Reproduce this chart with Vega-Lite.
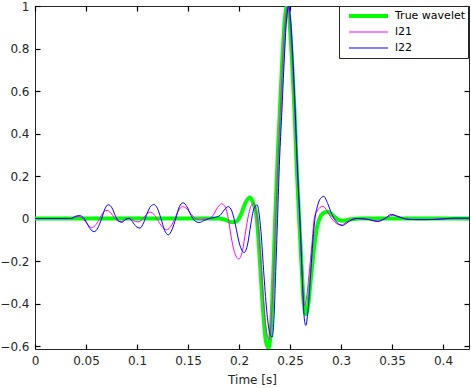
{
  "$schema": "https://vega.github.io/schema/vega-lite/v6.json",
  "width": 434,
  "height": 343,
  "autosize": {"type": "none"},
  "padding": {"left": 35, "top": 6, "right": 2, "bottom": 39},
  "config": {
    "view": {"stroke": "#262626", "strokeWidth": 1},
    "font": "DejaVu Sans",
    "axis": {"grid": false, "domain": false, "offset": -5, "tickSize": 5, "ticks": true, "zindex": 1, "tickWidth": 1.2, "labelFlush": false, "labelOverlap": false, "tickColor": "#000000", "labelColor": "#262626", "titleColor": "#262626", "labelFont": "DejaVu Sans", "titleFont": "DejaVu Sans", "labelFontSize": 12, "titleFontSize": 12, "titleFontWeight": "normal"}
  },
  "datasets": {
    "w": [
      {"s":"True wavelet","t":0,"a":0},{"s":"True wavelet","t":0.18,"a":0},{"s":"True wavelet","t":0.186,"a":-0.005},{"s":"True wavelet","t":0.193,"a":-0.017},{"s":"True wavelet","t":0.198,"a":-0.012},{"s":"True wavelet","t":0.202,"a":0.02},{"s":"True wavelet","t":0.206,"a":0.07},{"s":"True wavelet","t":0.2105,"a":0.099},{"s":"True wavelet","t":0.2145,"a":0.065},{"s":"True wavelet","t":0.2175,"a":0},{"s":"True wavelet","t":0.2205,"a":-0.2},{"s":"True wavelet","t":0.2235,"a":-0.43},{"s":"True wavelet","t":0.2265,"a":-0.58},{"s":"True wavelet","t":0.2292,"a":-0.61},{"s":"True wavelet","t":0.2315,"a":-0.5},{"s":"True wavelet","t":0.2335,"a":-0.28},{"s":"True wavelet","t":0.2355,"a":0},{"s":"True wavelet","t":0.238,"a":0.3},{"s":"True wavelet","t":0.24,"a":0.5},{"s":"True wavelet","t":0.2425,"a":0.75},{"s":"True wavelet","t":0.245,"a":0.94},{"s":"True wavelet","t":0.2472,"a":1.0},{"s":"True wavelet","t":0.2495,"a":0.93},{"s":"True wavelet","t":0.252,"a":0.74},{"s":"True wavelet","t":0.2545,"a":0.5},{"s":"True wavelet","t":0.2565,"a":0.25},{"s":"True wavelet","t":0.259,"a":0},{"s":"True wavelet","t":0.2615,"a":-0.24},{"s":"True wavelet","t":0.2635,"a":-0.4},{"s":"True wavelet","t":0.2655,"a":-0.45},{"s":"True wavelet","t":0.268,"a":-0.4},{"s":"True wavelet","t":0.2705,"a":-0.28},{"s":"True wavelet","t":0.2735,"a":-0.14},{"s":"True wavelet","t":0.2765,"a":-0.04},{"s":"True wavelet","t":0.279,"a":0},{"s":"True wavelet","t":0.2825,"a":0.025},{"s":"True wavelet","t":0.287,"a":0.032},{"s":"True wavelet","t":0.292,"a":0.015},{"s":"True wavelet","t":0.297,"a":-0.005},{"s":"True wavelet","t":0.302,"a":-0.01},{"s":"True wavelet","t":0.31,"a":-0.003},{"s":"True wavelet","t":0.32,"a":0},{"s":"True wavelet","t":0.4255,"a":0},

      {"s":"l21","t":0,"a":0},{"s":"l21","t":0.035,"a":0},{"s":"l21","t":0.039,"a":0.006},{"s":"l21","t":0.0425,"a":0.01},{"s":"l21","t":0.046,"a":0.003},{"s":"l21","t":0.049,"a":-0.012},{"s":"l21","t":0.0525,"a":-0.033},{"s":"l21","t":0.0555,"a":-0.043},{"s":"l21","t":0.059,"a":-0.033},{"s":"l21","t":0.0625,"a":-0.008},{"s":"l21","t":0.066,"a":0.022},{"s":"l21","t":0.0705,"a":0.038},{"s":"l21","t":0.0745,"a":0.025},{"s":"l21","t":0.078,"a":0.002},{"s":"l21","t":0.0815,"a":-0.012},{"s":"l21","t":0.085,"a":-0.014},{"s":"l21","t":0.0885,"a":-0.004},{"s":"l21","t":0.0924,"a":0},{"s":"l21","t":0.0965,"a":-0.01},{"s":"l21","t":0.101,"a":-0.016},{"s":"l21","t":0.105,"a":-0.005},{"s":"l21","t":0.109,"a":0.018},{"s":"l21","t":0.1127,"a":0.03},{"s":"l21","t":0.1165,"a":0.02},{"s":"l21","t":0.12,"a":-0.005},{"s":"l21","t":0.1245,"a":-0.038},{"s":"l21","t":0.129,"a":-0.053},{"s":"l21","t":0.1335,"a":-0.035},{"s":"l21","t":0.137,"a":0},{"s":"l21","t":0.141,"a":0.04},{"s":"l21","t":0.1447,"a":0.056},{"s":"l21","t":0.149,"a":0.045},{"s":"l21","t":0.1535,"a":0.018},{"s":"l21","t":0.1575,"a":0},{"s":"l21","t":0.1616,"a":-0.006},{"s":"l21","t":0.166,"a":-0.003},{"s":"l21","t":0.171,"a":0},{"s":"l21","t":0.175,"a":0.018},{"s":"l21","t":0.179,"a":0.052},{"s":"l21","t":0.183,"a":0.069},{"s":"l21","t":0.1865,"a":0.055},{"s":"l21","t":0.1895,"a":0},{"s":"l21","t":0.1925,"a":-0.09},{"s":"l21","t":0.196,"a":-0.165},{"s":"l21","t":0.1998,"a":-0.19},{"s":"l21","t":0.2035,"a":-0.15},{"s":"l21","t":0.2065,"a":-0.06},{"s":"l21","t":0.2095,"a":0.02},{"s":"l21","t":0.212,"a":0.062},{"s":"l21","t":0.2145,"a":0.072},{"s":"l21","t":0.2165,"a":0.04},{"s":"l21","t":0.218,"a":0},{"s":"l21","t":0.221,"a":-0.17},{"s":"l21","t":0.224,"a":-0.38},{"s":"l21","t":0.227,"a":-0.53},{"s":"l21","t":0.2295,"a":-0.57},{"s":"l21","t":0.232,"a":-0.45},{"s":"l21","t":0.234,"a":-0.25},{"s":"l21","t":0.236,"a":0},{"s":"l21","t":0.2385,"a":0.3},{"s":"l21","t":0.2405,"a":0.5},{"s":"l21","t":0.243,"a":0.76},{"s":"l21","t":0.2455,"a":0.94},{"s":"l21","t":0.2477,"a":1.0},{"s":"l21","t":0.25,"a":0.92},{"s":"l21","t":0.2525,"a":0.72},{"s":"l21","t":0.255,"a":0.47},{"s":"l21","t":0.257,"a":0.24},{"s":"l21","t":0.2595,"a":0},{"s":"l21","t":0.2615,"a":-0.22},{"s":"l21","t":0.2638,"a":-0.41},{"s":"l21","t":0.266,"a":-0.38},{"s":"l21","t":0.2685,"a":-0.27},{"s":"l21","t":0.2715,"a":-0.12},{"s":"l21","t":0.2738,"a":0},{"s":"l21","t":0.2765,"a":0.035},{"s":"l21","t":0.2795,"a":0.052},{"s":"l21","t":0.2824,"a":0.058},{"s":"l21","t":0.2865,"a":0.035},{"s":"l21","t":0.29,"a":0.005},{"s":"l21","t":0.294,"a":-0.017},{"s":"l21","t":0.2975,"a":-0.028},{"s":"l21","t":0.3005,"a":-0.03},{"s":"l21","t":0.305,"a":-0.018},{"s":"l21","t":0.31,"a":-0.005},{"s":"l21","t":0.315,"a":0},{"s":"l21","t":0.325,"a":-0.003},{"s":"l21","t":0.336,"a":-0.011},{"s":"l21","t":0.343,"a":0},{"s":"l21","t":0.3505,"a":0.015},{"s":"l21","t":0.357,"a":0.006},{"s":"l21","t":0.365,"a":-0.003},{"s":"l21","t":0.378,"a":-0.006},{"s":"l21","t":0.395,"a":-0.003},{"s":"l21","t":0.41,"a":0},{"s":"l21","t":0.4255,"a":0},

      {"s":"l22","t":0,"a":0},{"s":"l22","t":0.035,"a":0},{"s":"l22","t":0.0395,"a":0.01},{"s":"l22","t":0.0434,"a":0.014},{"s":"l22","t":0.0475,"a":0.004},{"s":"l22","t":0.0505,"a":-0.018},{"s":"l22","t":0.054,"a":-0.048},{"s":"l22","t":0.058,"a":-0.062},{"s":"l22","t":0.0615,"a":-0.045},{"s":"l22","t":0.065,"a":-0.005},{"s":"l22","t":0.0685,"a":0.045},{"s":"l22","t":0.0718,"a":0.065},{"s":"l22","t":0.0755,"a":0.05},{"s":"l22","t":0.079,"a":0.01},{"s":"l22","t":0.082,"a":-0.012},{"s":"l22","t":0.085,"a":-0.018},{"s":"l22","t":0.0885,"a":-0.006},{"s":"l22","t":0.092,"a":0.001},{"s":"l22","t":0.0955,"a":-0.015},{"s":"l22","t":0.0992,"a":-0.038},{"s":"l22","t":0.1029,"a":-0.045},{"s":"l22","t":0.1065,"a":-0.02},{"s":"l22","t":0.11,"a":0.025},{"s":"l22","t":0.1135,"a":0.058},{"s":"l22","t":0.1166,"a":0.066},{"s":"l22","t":0.12,"a":0.048},{"s":"l22","t":0.1235,"a":0},{"s":"l22","t":0.127,"a":-0.055},{"s":"l22","t":0.1306,"a":-0.077},{"s":"l22","t":0.1345,"a":-0.05},{"s":"l22","t":0.138,"a":0},{"s":"l22","t":0.1415,"a":0.055},{"s":"l22","t":0.1453,"a":0.074},{"s":"l22","t":0.149,"a":0.055},{"s":"l22","t":0.153,"a":0.015},{"s":"l22","t":0.157,"a":-0.012},{"s":"l22","t":0.161,"a":-0.019},{"s":"l22","t":0.1655,"a":-0.01},{"s":"l22","t":0.171,"a":0},{"s":"l22","t":0.177,"a":0.006},{"s":"l22","t":0.1815,"a":0.015},{"s":"l22","t":0.1855,"a":0.04},{"s":"l22","t":0.1894,"a":0.056},{"s":"l22","t":0.193,"a":0.035},{"s":"l22","t":0.1965,"a":-0.03},{"s":"l22","t":0.2005,"a":-0.12},{"s":"l22","t":0.205,"a":-0.16},{"s":"l22","t":0.2085,"a":-0.12},{"s":"l22","t":0.2115,"a":-0.03},{"s":"l22","t":0.2145,"a":0.045},{"s":"l22","t":0.2178,"a":0.064},{"s":"l22","t":0.2195,"a":0.03},{"s":"l22","t":0.2215,"a":-0.06},{"s":"l22","t":0.2245,"a":-0.27},{"s":"l22","t":0.2275,"a":-0.45},{"s":"l22","t":0.2305,"a":-0.545},{"s":"l22","t":0.2325,"a":-0.558},{"s":"l22","t":0.2345,"a":-0.45},{"s":"l22","t":0.236,"a":-0.25},{"s":"l22","t":0.2378,"a":0},{"s":"l22","t":0.2398,"a":0.28},{"s":"l22","t":0.2418,"a":0.48},{"s":"l22","t":0.2445,"a":0.76},{"s":"l22","t":0.2465,"a":0.93},{"s":"l22","t":0.2487,"a":1.0},{"s":"l22","t":0.251,"a":0.91},{"s":"l22","t":0.2532,"a":0.72},{"s":"l22","t":0.2555,"a":0.46},{"s":"l22","t":0.2575,"a":0.22},{"s":"l22","t":0.26,"a":-0.03},{"s":"l22","t":0.262,"a":-0.27},{"s":"l22","t":0.264,"a":-0.47},{"s":"l22","t":0.2655,"a":-0.503},{"s":"l22","t":0.2675,"a":-0.44},{"s":"l22","t":0.27,"a":-0.28},{"s":"l22","t":0.2725,"a":-0.1},{"s":"l22","t":0.2745,"a":0},{"s":"l22","t":0.277,"a":0.06},{"s":"l22","t":0.28,"a":0.095},{"s":"l22","t":0.2831,"a":0.104},{"s":"l22","t":0.287,"a":0.07},{"s":"l22","t":0.291,"a":0.02},{"s":"l22","t":0.2945,"a":-0.01},{"s":"l22","t":0.298,"a":-0.027},{"s":"l22","t":0.3014,"a":-0.033},{"s":"l22","t":0.306,"a":-0.02},{"s":"l22","t":0.311,"a":-0.005},{"s":"l22","t":0.316,"a":0},{"s":"l22","t":0.325,"a":-0.003},{"s":"l22","t":0.336,"a":-0.014},{"s":"l22","t":0.3425,"a":-0.002},{"s":"l22","t":0.3494,"a":0.019},{"s":"l22","t":0.356,"a":0.01},{"s":"l22","t":0.363,"a":-0.002},{"s":"l22","t":0.37,"a":-0.005},{"s":"l22","t":0.385,"a":-0.005},{"s":"l22","t":0.4,"a":-0.002},{"s":"l22","t":0.41,"a":0.002},{"s":"l22","t":0.4255,"a":0.002}
    ]
  },
  "data": {"name": "w"},
  "resolve": {"axis": {"x": "independent", "y": "independent"}},
  "layer": [
    {
      "mark": {"type": "line", "interpolate": "monotone", "clip": true},
      "encoding": {
        "x": {"field": "t", "type": "quantitative", "scale": {"domain": [0, 0.4255], "nice": false, "zero": false},
              "axis": {"values": [0,0.05,0.1,0.15,0.2,0.25,0.3,0.35,0.4], "format": "~g", "title": "Time [s]", "labelPadding": 6, "titlePadding": 8}},
        "y": {"field": "a", "type": "quantitative", "scale": {"domain": [-0.614, 1], "nice": false, "zero": false},
              "axis": {"values": [-0.6,-0.4,-0.2,0,0.2,0.4,0.6,0.8,1], "format": "~g", "title": null, "labelPadding": 6}},
        "color": {"field": "s", "type": "nominal", "sort": ["True wavelet","l21","l22"],
                  "scale": {"domain": ["True wavelet","l21","l22"], "range": ["#00ff00","#ff00ff","#0000ff"]},
                  "legend": {"title": null, "orient": "none", "legendX": 304, "legendY": 0, "zindex": 2, "symbolType": "stroke", "symbolSize": 1521, "clipHeight": 16, "rowPadding": 0, "padding": 2, "symbolOffset": 6, "labelOffset": 5, "labelFontSize": 11, "labelFont": "DejaVu Sans", "labelColor": "#000000", "fillColor": "#ffffff", "strokeColor": "#262626", "cornerRadius": 0}},
        "strokeWidth": {"field": "s", "type": "nominal",
                  "scale": {"type": "ordinal", "domain": ["True wavelet","l21","l22"], "range": [4, 1, 1]}, "legend": null},
        "order": {"field": "t", "type": "quantitative"}
      }
    },
    {
      "mark": {"type": "line", "opacity": 0},
      "encoding": {
        "x": {"field": "t", "type": "quantitative", "axis": {"orient": "top", "values": [0,0.05,0.1,0.15,0.2,0.25,0.3,0.35,0.4], "labels": false, "title": null}},
        "y": {"field": "a", "type": "quantitative", "axis": {"orient": "right", "values": [-0.6,-0.4,-0.2,0,0.2,0.4,0.6,0.8,1], "labels": false, "title": null}},
        "detail": {"field": "s", "type": "nominal"}
      }
    }
  ]
}
